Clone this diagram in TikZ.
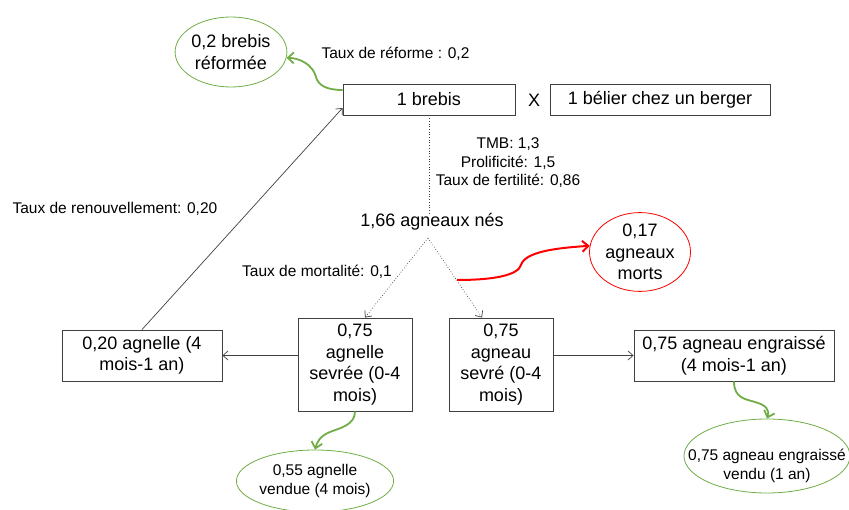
\documentclass[tikz,border=0pt]{standalone}
\usepackage{fontspec}
\setmainfont{Liberation Sans}
\usetikzlibrary{arrows.meta,shapes.geometric}
\definecolor{leaf}{RGB}{112,173,71}
\definecolor{edge}{RGB}{64,64,64}
\begin{document}
\begin{tikzpicture}[x=1pt,y=-1pt,
  big/.style={font=\fontsize{18}{21.5}\selectfont},
  small/.style={font=\fontsize{15.5}{18.5}\selectfont},
  box/.style={draw=edge,line width=0.9pt,big,align=center,inner sep=0pt},
  gell/.style={ellipse,draw=leaf,line width=0.8pt,inner sep=0pt,align=center},
  rell/.style={ellipse,draw=red,line width=0.8pt,inner sep=0pt,align=center},
  plain/.style={draw=edge,line width=0.7pt,-{Straight Barb[length=5pt,width=9pt]}},
  dots/.style={draw=edge,line width=0.7pt,dotted,-{Straight Barb[length=5pt,width=9pt]}},
  gflow/.style={draw=leaf,line width=1.8pt,-{Straight Barb[length=6pt,width=11pt]}},
  rflow/.style={draw=red,line width=2pt,-{Straight Barb[length=6pt,width=11pt]}}]
\useasboundingbox (0,0) rectangle (849,510);

% top row
\node[box,minimum width=172pt,minimum height=31pt] (brebis) at (429,99.5) {1 brebis};
\node[big] (fois) at (534,100) {X};
\node[box,minimum width=220pt,minimum height=31pt] (belier) at (660,99.5) {1 bélier chez un berger};
\node[gell,big,minimum width=110pt,minimum height=70pt] (reforme) at (231,52) {0,2 brebis\\réformée};
\node[small,anchor=west] (txref) at (318,54) {Taux de réforme : 0,2};

% births
\node[small,align=center] (txrepro) at (508,163) {TMB: 1,3\\Prolificité: 1,5\\Taux de fertilité: 0,86};
\node[big,inner sep=0pt] (nes) at (432,222) {1,66 agneaux nés};
\node[small,anchor=west] (txrenouv) at (9,209) {Taux de renouvellement: 0,20};
\node[small] (txmort) at (317,272) {Taux de mortalité: 0,1};
\node[rell,big,minimum width=101pt,minimum height=77pt] (morts) at (640,252) {0,17\\agneaux\\morts};
\coordinate (fork) at (428,238);

% lower row
\node[box,minimum width=160pt,minimum height=51pt] (agnelle) at (142,355.5) {0,20 agnelle (4\\mois-1 an)};
\node[box,minimum width=114pt,minimum height=93pt] (sevree) at (355,364.5) {0,75\\agnelle\\sevrée (0-4\\mois)};
\node[box,minimum width=104pt,minimum height=93pt] (sevre) at (501,364.5) {0,75\\agneau\\sevré (0-4\\mois)};
\node[box,minimum width=200pt,minimum height=51pt] (engr) at (734,355.5) {0,75 agneau engraissé\\(4 mois-1 an)};

% sales
\node[gell,small,minimum width=144pt,minimum height=62pt] (vendue) at (315,481) {0,55 agnelle\\vendue (4 mois)};
\node[gell,minimum width=166pt,minimum height=74pt] (vendu) at (767,456) {};
\node[small,align=center] (txvendu) at (767,466) {0,75 agneau engraissé\\vendu (1 an)};

% connectors
\draw[dotted,draw=edge,line width=0.7pt] (brebis.south) -- (brebis.south |- nes.north);
\draw[dots] (fork) -- ([xshift=10pt]sevree.north);
\draw[dots] (fork) -- ([xshift=-19pt]sevre.north);
\draw[plain] (agnelle.north) -- ([yshift=-8.5pt]brebis.west);
\draw[plain] (sevree.west |- agnelle.east) -- (agnelle.east);
\draw[plain] (sevre.east |- engr.west) -- (engr.west);

\draw[gflow] ([yshift=9.5pt]brebis.west) .. controls (326,90) and (318,85) .. (316,77)
  .. controls (313,65) and (300,58) .. (reforme.-6);
\draw[rflow] (457,280) .. controls (495,280) and (518,275) .. (521,265)
  .. controls (525,252) and (555,248) .. (morts.173);
\draw[gflow] (sevree.south) .. controls (355,425) and (340,428) .. (330,432)
  .. controls (320,436) and (317,442) .. (vendue.north);
\draw[gflow] (engr.south) .. controls (734,398) and (745,399) .. (755,402)
  .. controls (766,405) and (770,410) .. (vendu.north);
\end{tikzpicture}
\end{document}
